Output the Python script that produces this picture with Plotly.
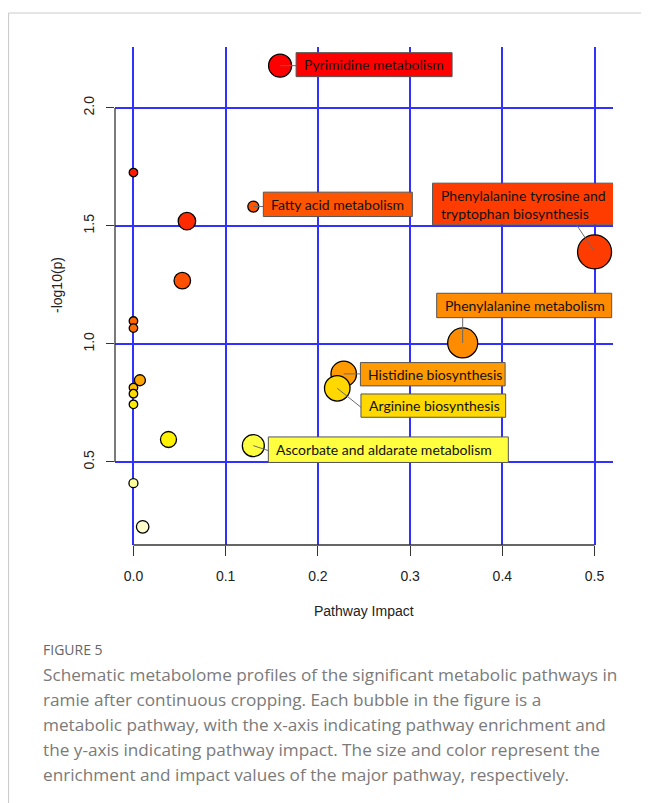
import plotly.graph_objects as go

# ---------------- data ----------------
pathway = [
    "Pyrimidine metabolism", "", "Fatty acid metabolism", "", "", "", "",
    "Phenylalanine metabolism", "Histidine biosynthesis", "", "Arginine biosynthesis",
    "", "", "", "", "Ascorbate and aldarate metabolism", "", "",
    "Phenylalanine tyrosine and<br>tryptophan biosynthesis",
]
impact = [0.159, 0.0, 0.130, 0.058, 0.053, 0.0, 0.0,
          0.357, 0.228, 0.007, 0.221,
          0.0, 0.0, 0.0, 0.038, 0.130, 0.0, 0.010,
          0.500]
neg_log_p = [2.179, 1.726, 1.582, 1.520, 1.268, 1.097, 1.067,
             1.004, 0.873, 0.846, 0.812,
             0.815, 0.789, 0.744, 0.595, 0.569, 0.410, 0.225,
             1.390]

x_ticks = [0.0, 0.1, 0.2, 0.3, 0.4, 0.5]
y_ticks = [0.5, 1.0, 1.5, 2.0]

# ---------------- styles ----------------
bubble_px = [23, 8.5, 11, 17.5, 16.5, 8.5, 8.5,
             30, 25.5, 11, 25.5,
             8.5, 8.5, 8.5, 16, 22, 9, 12.5,
             34]
bubble_color = ["#FF0000", "#FF1A00", "#FF5500", "#FF2A00", "#FF5000", "#FF6600", "#FF6A00",
                "#FF8C00", "#FF9B00", "#FFA500", "#FFD800",
                "#FFBE00", "#FFDC00", "#FFEE00", "#FFF200", "#FFFF40", "#FFFF99", "#FFFFCC",
                "#FF3C00"]

# label box geometry, in screen px relative to bubble centre (dy down-positive)
label_geom = {
    "Pyrimidine metabolism": dict(box=(16, 172, -13, 11), tip=(16, 0)),
    "Fatty acid metabolism": dict(box=(10, 159, -14.4, 10), tip=(10, 0)),
    "Phenylalanine tyrosine and<br>tryptophan biosynthesis": dict(box=(-162, 19, -68.7, -27), tip=(-18, -27)),
    "Phenylalanine metabolism": dict(box=(-26, 149, -49.7, -25.3), tip=(0, -25.3)),
    "Histidine biosynthesis": dict(box=(16.7, 161.4, -11.3, 12), tip=(16.7, 0)),
    "Arginine biosynthesis": dict(box=(23.7, 168.4, 5.7, 29), tip=(23.7, 19)),
    "Ascorbate and aldarate metabolism": dict(box=(15, 255, -8.7, 16.8), tip=(15, 5)),
}

# page body margin offsets the figure by 8 px
OFF = 8
FIG_W, FIG_H = 649 - OFF, 803 - OFF
L, T, W, H = 115 - OFF, 47 - OFF, 498, 498


def px(xp):
    return (xp - OFF - L) / W


def py(yp):
    return (T + H - (yp - OFF)) / H


fig = go.Figure()
fig.add_trace(go.Scatter(
    x=impact, y=neg_log_p, mode="markers",
    marker=dict(size=bubble_px, color=bubble_color,
                line=dict(color="black", width=1.3), opacity=1),
    hoverinfo="skip", showlegend=False,
))

shapes = []
annotations = []

for name, xv, yv, col in zip(pathway, impact, neg_log_p, bubble_color):
    if not name:
        continue
    g = label_geom[name]
    bx0, bx1, by0, by1 = g["box"]
    tx, ty = g["tip"]
    shapes.append(dict(type="line", xref="x", yref="y", xsizemode="pixel", ysizemode="pixel",
                       xanchor=xv, yanchor=yv, x0=0, y0=0, x1=tx, y1=-ty,
                       line=dict(color="#6a6a6a", width=1), layer="above"))
    shapes.append(dict(type="rect", xref="x", yref="y", xsizemode="pixel", ysizemode="pixel",
                       xanchor=xv, yanchor=yv, x0=bx0, x1=bx1, y0=-by1, y1=-by0,
                       fillcolor=col, line=dict(color="#555555", width=1), layer="above"))
    annotations.append(dict(
        x=xv, y=yv, xref="x", yref="y", text=name, showarrow=False,
        xanchor="left", yanchor="middle", align="left",
        xshift=bx0 + 6, yshift=-(by0 + by1) / 2,
        font=dict(family="Lato", size=14, color="#111111"),
    ))

# R-style axis lines
shapes.append(dict(type="line", xref="x", yref="paper", x0=x_ticks[0], x1=x_ticks[-1], y0=0, y1=0,
                   line=dict(color="#333333", width=1.3), layer="above"))
shapes.append(dict(type="line", xref="paper", yref="y", x0=0, x1=0, y0=y_ticks[0], y1=y_ticks[-1],
                   line=dict(color="#333333", width=1.3), layer="above"))

# card border
shapes.append(dict(type="line", xref="paper", yref="paper", x0=px(8.5), x1=px(660), y0=py(13), y1=py(13),
                   line=dict(color="#cccccc", width=1.2)))
shapes.append(dict(type="line", xref="paper", yref="paper", x0=px(8.5), x1=px(8.5), y0=py(13), y1=py(810),
                   line=dict(color="#cccccc", width=1.2)))

# axis titles
annotations.append(dict(x=0.5, y=py(611), xref="paper", yref="paper", text="Pathway Impact",
                        showarrow=False, xanchor="center", yanchor="middle",
                        font=dict(family="Liberation Sans", size=14, color="#222222")))
annotations.append(dict(x=px(57), y=py(285), xref="paper", yref="paper", text="-log10(p)",
                        showarrow=False, xanchor="center", yanchor="middle", textangle=-90,
                        font=dict(family="Liberation Sans", size=14, color="#222222")))

# caption
annotations.append(dict(x=px(41), y=py(649), xref="paper", yref="paper", text="FIGURE 5",
                        showarrow=False, xanchor="left", yanchor="middle",
                        font=dict(family="Open Sans", size=14, color="#666666")))
caption_lines = [
    "Schematic metabolome profiles of the significant metabolic pathways in",
    "ramie after continuous cropping. Each bubble in the figure is a",
    "metabolic pathway, with the x-axis indicating pathway enrichment and",
    "the y-axis indicating pathway impact. The size and color represent the",
    "enrichment and impact values of the major pathway, respectively.",
]
for i, line in enumerate(caption_lines):
    annotations.append(dict(x=px(41), y=py(674 + 25 * i), xref="paper", yref="paper", text=line,
                            showarrow=False, xanchor="left", yanchor="middle",
                            font=dict(family="Open Sans", size=17.2, color="#7a7a7a")))

fig.update_layout(
    width=FIG_W, height=FIG_H,
    margin=dict(l=L, r=FIG_W - L - W, t=T, b=FIG_H - T - H, autoexpand=False),
    paper_bgcolor="white", plot_bgcolor="white",
    shapes=shapes, annotations=annotations,
    font=dict(family="Liberation Sans", size=14, color="#222222"),
)
fig.update_xaxes(
    range=[-0.02, 0.52], tickvals=x_ticks, ticktext=[f"{v:.1f}" for v in x_ticks],
    showgrid=True, gridcolor="#3030ff", gridwidth=1.5, zeroline=False, showline=False,
    ticks="outside", ticklen=10, tickwidth=1.3, tickcolor="#333333",
    tickfont=dict(family="Liberation Sans", size=14, color="#222222"),
    ticklabelstandoff=8,
)
fig.update_yaxes(
    range=[0.148, 2.258], tickvals=y_ticks, ticktext=[f"{v:.1f}" for v in y_ticks],
    showgrid=True, gridcolor="#3030ff", gridwidth=1.5, zeroline=False, showline=False,
    ticks="outside", ticklen=8, tickwidth=1.3, tickcolor="#333333", tickangle=-90,
    tickfont=dict(family="Liberation Sans", size=14, color="#222222"),
    ticklabelstandoff=6,
)

fig.write_html("out.html")
